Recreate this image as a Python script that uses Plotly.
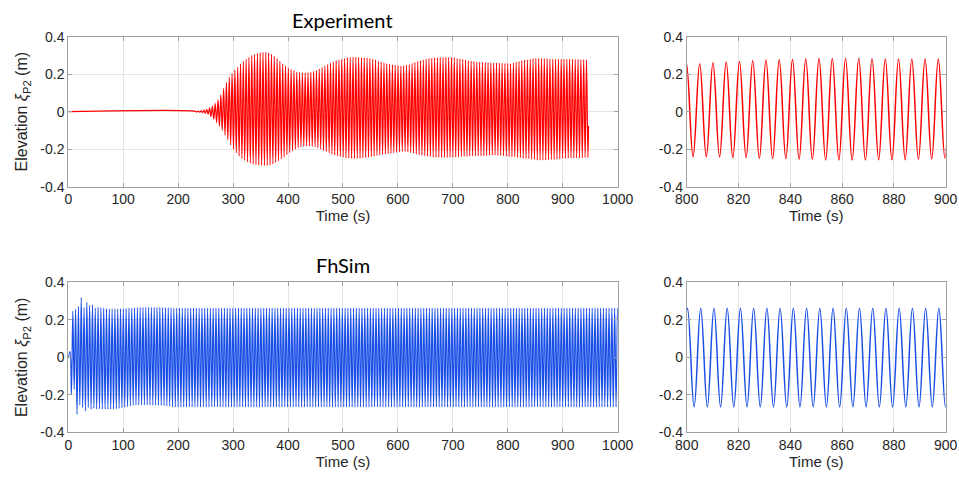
import numpy as np
import plotly.graph_objects as go

# ---------------- Experiment: wave elevation at P2 ----------------
# Alternating extrema (one peak + one trough per wave period).
EXP_FIRST_PEAK = 231.56   # s, time of the first listed crest
EXP_HALF_PERIOD = 2.56    # s
exp_lead = (0.0, 0.0)     # still water before the waves arrive
exp_tail = (947.0, -0.076)

exp_peaks = [
    0.002, 0.003, 0.005, 0.008, 0.012, 0.020, 0.030, 0.045, 0.065, 0.090,
    0.125, 0.155, 0.183, 0.205, 0.222, 0.238, 0.255, 0.268, 0.281, 0.290,
    0.300, 0.306, 0.311, 0.315, 0.317, 0.318, 0.315, 0.307, 0.297, 0.284,
    0.270, 0.257, 0.245, 0.234, 0.226, 0.219, 0.213, 0.210, 0.208, 0.207,
    0.208, 0.211, 0.215, 0.221, 0.228, 0.237, 0.245, 0.252, 0.259, 0.266,
    0.272, 0.277, 0.281, 0.285, 0.288, 0.290, 0.291, 0.291, 0.290, 0.289,
    0.288, 0.287, 0.285, 0.281, 0.276, 0.270, 0.265, 0.261, 0.257, 0.254,
    0.251, 0.248, 0.246, 0.245, 0.246, 0.249, 0.253, 0.258, 0.263, 0.268,
    0.273, 0.277, 0.281, 0.284, 0.286, 0.288, 0.289, 0.290, 0.290, 0.290,
    0.290, 0.290, 0.288, 0.285, 0.282, 0.279, 0.276, 0.273, 0.270, 0.268,
    0.266, 0.265, 0.264, 0.263, 0.262, 0.261, 0.260, 0.260, 0.259, 0.259,
    0.258, 0.258, 0.256, 0.261, 0.265, 0.268, 0.272, 0.276, 0.277, 0.279,
    0.283, 0.284, 0.284, 0.284, 0.284, 0.283, 0.281, 0.281, 0.281, 0.281,
    0.281, 0.281, 0.281, 0.280, 0.280, 0.279, 0.279, 0.278, 0.278, 0.277,
]
exp_troughs = [
    -0.002, -0.003, -0.005, -0.009, -0.014, -0.026, -0.040, -0.058, -0.076, -0.100,
    -0.125, -0.150, -0.178, -0.200, -0.220, -0.236, -0.250, -0.260, -0.268, -0.275,
    -0.280, -0.283, -0.285, -0.287, -0.288, -0.287, -0.284, -0.279, -0.271, -0.262,
    -0.251, -0.241, -0.229, -0.218, -0.209, -0.200, -0.193, -0.188, -0.185, -0.183,
    -0.183, -0.185, -0.188, -0.193, -0.200, -0.207, -0.213, -0.220, -0.226, -0.232,
    -0.236, -0.240, -0.243, -0.246, -0.248, -0.249, -0.250, -0.249, -0.249, -0.247,
    -0.245, -0.243, -0.240, -0.237, -0.234, -0.231, -0.229, -0.226, -0.224, -0.222,
    -0.220, -0.217, -0.214, -0.213, -0.213, -0.215, -0.218, -0.222, -0.226, -0.230,
    -0.233, -0.236, -0.238, -0.240, -0.242, -0.243, -0.244, -0.245, -0.245, -0.245,
    -0.244, -0.243, -0.242, -0.241, -0.240, -0.239, -0.238, -0.237, -0.236, -0.236,
    -0.236, -0.236, -0.235, -0.234, -0.233, -0.232, -0.232, -0.233, -0.234, -0.236,
    -0.238, -0.240, -0.241, -0.241, -0.245, -0.245, -0.249, -0.250, -0.250, -0.254,
    -0.254, -0.258, -0.258, -0.258, -0.258, -0.256, -0.256, -0.256, -0.254, -0.252,
    -0.249, -0.249, -0.248, -0.248, -0.247, -0.247, -0.246, -0.246, -0.245, -0.245,
]

# ---------------- FhSim: simulated elevation at P2 ----------------
FH_FIRST_PEAK = 3.13      # s
FH_HALF_PERIOD = 2.555    # s
fh_lead = (0.0, 0.0)
fh_tail = (1000.0, 0.20)

fh_peaks = [
    0.030, 0.247, 0.256, 0.270, 0.318, 0.265, 0.295, 0.277, 0.280, 0.262,
    0.268, 0.265, 0.262, 0.260, 0.259, 0.259, 0.259, 0.259, 0.260, 0.260,
    0.261, 0.262, 0.263, 0.264, 0.265, 0.266, 0.266, 0.266, 0.266, 0.266,
    0.266, 0.266, 0.266, 0.266, 0.265, 0.265, 0.264, 0.263, 0.262, 0.262,
    0.262, 0.262, 0.262, 0.262, 0.262, 0.262, 0.262, 0.262, 0.262, 0.262,
    0.262, 0.262, 0.262, 0.262, 0.262, 0.262, 0.262, 0.262, 0.262, 0.262,
    0.262, 0.262, 0.262, 0.262, 0.262, 0.262, 0.262, 0.262, 0.262, 0.262,
    0.262, 0.262, 0.262, 0.262, 0.262, 0.262, 0.262, 0.262, 0.262, 0.262,
    0.262, 0.262, 0.262, 0.262, 0.262, 0.262, 0.262, 0.262, 0.262, 0.262,
    0.262, 0.262, 0.262, 0.262, 0.262, 0.262, 0.262, 0.262, 0.262, 0.262,
    0.262, 0.262, 0.262, 0.262, 0.262, 0.262, 0.262, 0.262, 0.262, 0.262,
    0.262, 0.262, 0.262, 0.262, 0.262, 0.262, 0.262, 0.262, 0.262, 0.262,
    0.262, 0.262, 0.262, 0.262, 0.262, 0.262, 0.262, 0.262, 0.262, 0.262,
    0.262, 0.262, 0.262, 0.262, 0.262, 0.262, 0.262, 0.262, 0.262, 0.262,
    0.262, 0.262, 0.262, 0.262, 0.262, 0.262, 0.262, 0.262, 0.262, 0.262,
    0.262, 0.262, 0.262, 0.262, 0.262, 0.262, 0.262, 0.262, 0.262, 0.262,
    0.262, 0.262, 0.262, 0.262, 0.262, 0.262, 0.262, 0.262, 0.262, 0.262,
    0.262, 0.262, 0.262, 0.262, 0.262, 0.262, 0.262, 0.262, 0.262, 0.262,
    0.262, 0.262, 0.262, 0.262, 0.262, 0.262, 0.262, 0.262, 0.262, 0.262,
    0.262, 0.262, 0.262, 0.262, 0.262, 0.262,
]
fh_troughs = [
    -0.200, -0.171, -0.305, -0.255, -0.268, -0.286, -0.268, -0.278, -0.272, -0.276,
    -0.275, -0.276, -0.277, -0.277, -0.277, -0.276, -0.275, -0.273, -0.270, -0.267,
    -0.263, -0.260, -0.257, -0.255, -0.254, -0.254, -0.254, -0.254, -0.254, -0.255,
    -0.255, -0.256, -0.257, -0.258, -0.260, -0.262, -0.264, -0.265, -0.266, -0.266,
    -0.265, -0.265, -0.265, -0.265, -0.265, -0.265, -0.265, -0.265, -0.265, -0.265,
    -0.265, -0.265, -0.265, -0.265, -0.265, -0.265, -0.265, -0.265, -0.265, -0.265,
    -0.265, -0.265, -0.265, -0.265, -0.265, -0.265, -0.265, -0.265, -0.265, -0.265,
    -0.265, -0.265, -0.265, -0.265, -0.265, -0.265, -0.265, -0.265, -0.265, -0.265,
    -0.265, -0.265, -0.265, -0.265, -0.265, -0.265, -0.265, -0.265, -0.265, -0.265,
    -0.265, -0.265, -0.265, -0.265, -0.265, -0.265, -0.265, -0.265, -0.265, -0.265,
    -0.265, -0.265, -0.265, -0.265, -0.265, -0.265, -0.265, -0.265, -0.265, -0.265,
    -0.265, -0.265, -0.265, -0.265, -0.265, -0.265, -0.265, -0.265, -0.265, -0.265,
    -0.265, -0.265, -0.265, -0.265, -0.265, -0.265, -0.265, -0.265, -0.265, -0.265,
    -0.265, -0.265, -0.265, -0.265, -0.265, -0.265, -0.265, -0.265, -0.265, -0.265,
    -0.265, -0.265, -0.265, -0.265, -0.265, -0.265, -0.265, -0.265, -0.265, -0.265,
    -0.265, -0.265, -0.265, -0.265, -0.265, -0.265, -0.265, -0.265, -0.265, -0.265,
    -0.265, -0.265, -0.265, -0.265, -0.265, -0.265, -0.265, -0.265, -0.265, -0.265,
    -0.265, -0.265, -0.265, -0.265, -0.265, -0.265, -0.265, -0.265, -0.265, -0.265,
    -0.265, -0.265, -0.265, -0.265, -0.265, -0.265, -0.265, -0.265, -0.265, -0.265,
    -0.265, -0.265, -0.265, -0.265, -0.265,
]

# Axis ticks
time_ticks = [0, 100, 200, 300, 400, 500, 600, 700, 800, 900, 1000]
zoom_ticks = [800, 820, 840, 860, 880, 900]
elev_ticks = [-0.4, -0.2, 0, 0.2, 0.4]
elev_labels = ["-0.4", "-0.2", "0", "0.2", "0.4"]


def series(first_peak, half_period, peaks, troughs, lead, tail):
    """Interleave crests and troughs in time order, add lead-in and tail samples."""
    n = len(peaks) + len(troughs)
    t = first_peak + half_period * np.arange(n)
    v = np.empty(n)
    v[0::2] = peaks
    v[1::2] = troughs
    t = np.concatenate([[lead[0]], t, [tail[0]]])
    v = np.concatenate([[lead[1]], v, [tail[1]]])
    return t, v


exp_t, exp_v = series(EXP_FIRST_PEAK, EXP_HALF_PERIOD, exp_peaks, exp_troughs, exp_lead, exp_tail)
fh_t, fh_v = series(FH_FIRST_PEAK, FH_HALF_PERIOD, fh_peaks, fh_troughs, fh_lead, fh_tail)

RED = "#ff0000"
BLUE = "#1a4fe6"

fig = go.Figure()
fig.add_trace(go.Scatter(x=exp_t, y=exp_v, mode="lines", xaxis="x", yaxis="y",
                         line=dict(color=RED, width=1.2, shape="spline", smoothing=1)))
fig.add_trace(go.Scatter(x=exp_t, y=exp_v, mode="lines", xaxis="x2", yaxis="y2",
                         line=dict(color=RED, width=1.5, shape="spline", smoothing=1.15)))
fig.add_trace(go.Scatter(x=fh_t, y=fh_v, mode="lines", xaxis="x3", yaxis="y3",
                         line=dict(color=BLUE, width=1.2, shape="spline", smoothing=1)))
fig.add_trace(go.Scatter(x=fh_t, y=fh_v, mode="lines", xaxis="x4", yaxis="y4",
                         line=dict(color=BLUE, width=1.5, shape="spline", smoothing=1.15)))

TEXT_FAMILY = "Liberation Sans, Arial, sans-serif"
TICK_FONT = dict(family=TEXT_FAMILY, size=14, color="#262626")
axis_common = dict(
    showline=True, linecolor="#a0a0a0", linewidth=1, mirror="ticks",
    ticks="inside", ticklen=4, tickcolor="#a0a0a0", tickwidth=1,
    showgrid=True, gridcolor="#e4e4e4", gridwidth=1, zeroline=False,
    tickfont=TICK_FONT, automargin=False,
)

LEFT = [0.0712, 0.6441]
RIGHT = [0.7161, 0.9861]
TOP = [0.6119, 0.9237]
BOTTOM = [0.1012, 0.4131]

x_title = dict(text="Time (s)", font=dict(family=TEXT_FAMILY, size=15, color="#262626"), standoff=0)
y_title = dict(text="Elevation <i>ξ</i><sub>P2</sub> (m)",
               font=dict(family=TEXT_FAMILY, size=16, color="#262626"), standoff=8)

def xaxis(domain, anchor, rng, ticks):
    return dict(axis_common, domain=domain, anchor=anchor, range=rng,
                tickvals=ticks, ticktext=[str(v) for v in ticks], title=x_title)

def yaxis(domain, anchor, title=None):
    d = dict(axis_common, domain=domain, anchor=anchor, range=[-0.4, 0.4],
             tickvals=elev_ticks, ticktext=elev_labels)
    if title:
        d["title"] = title
    return d

fig.update_layout(
    width=959, height=481,
    margin=dict(l=0, r=0, t=0, b=0, autoexpand=False),
    paper_bgcolor="white", plot_bgcolor="white",
    showlegend=False,
    xaxis=xaxis(LEFT, "y", [0, 1000], time_ticks),
    yaxis=yaxis(TOP, "x", y_title),
    xaxis2=xaxis(RIGHT, "y2", [800, 900], zoom_ticks),
    yaxis2=yaxis(TOP, "x2"),
    xaxis3=xaxis(LEFT, "y3", [0, 1000], time_ticks),
    yaxis3=yaxis(BOTTOM, "x3", y_title),
    xaxis4=xaxis(RIGHT, "y4", [800, 900], zoom_ticks),
    yaxis4=yaxis(BOTTOM, "x4"),
)

TITLE_FONT = dict(family="Lato, Open Sans, sans-serif", size=20, color="#000000")
for text, y_px in [("Experiment", 19.5), ("FhSim", 264.5)]:
    fig.add_annotation(text=text, xref="paper", yref="paper",
                       x=(LEFT[0] + LEFT[1]) / 2, y=1 - y_px / 481,
                       xanchor="center", yanchor="middle", showarrow=False,
                       font=TITLE_FONT)

fig.write_html("out.html")
